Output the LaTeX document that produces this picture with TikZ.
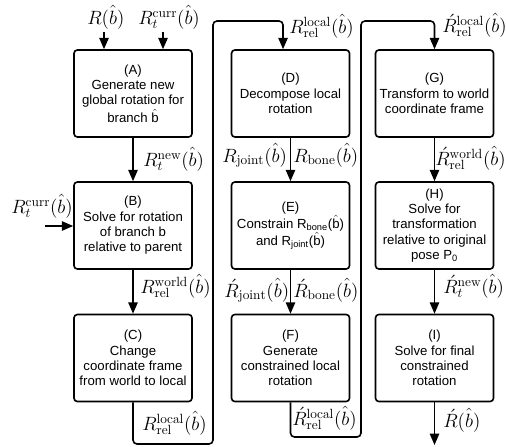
\documentclass[tikz,border=0pt]{standalone}
\usepackage{fontspec}
\newfontfamily\boxfont{Liberation Sans}
\usetikzlibrary{arrows.meta}
% R with an acute accent; the smashed box takes scripts like a plain R
\newcommand{\Racc}{\smash{\acute{R}}}
\newcommand{\bhat}{\hat{b}}
\newcommand{\sbhat}{$\hat{\mbox{b}}$}

\begin{document}
\begin{tikzpicture}[x=0.75pt,y=-0.75pt,
  stage/.style={draw, line width=1.2pt, rounded corners=2.5pt,
    minimum width=88.5pt, minimum height=65.25pt, align=center,
    inner sep=1pt, font=\boxfont\fontsize{9.9}{11.5}\selectfont},
  flow/.style={line width=1.2pt, -{Triangle[length=8.5pt,width=7pt]}},
  lbl/.style={anchor=base west, inner sep=0pt,
    font=\fontsize{14.4}{17}\selectfont}]

\useasboundingbox (0,0) rectangle (506,446);
\fill[white] (0,0) rectangle (506,446);

% processing stages
\node[stage] (A) at (133,93.5) {(A)\\Generate new\\global rotation for\\branch \sbhat};
\node[stage] (B) at (133,225.5) {(B)\\Solve for rotation\\of branch b\\relative to parent};
\node[stage] (C) at (133,358) {(C)\\Change\\coordinate frame\\from world to local};
\node[stage] (D) at (290.5,93.5) {(D)\\Decompose local\\rotation};
\node[stage] (E) at (290.5,225.5) {(E)\\Constrain R\textsubscript{bone}(\sbhat)\\and R\textsubscript{joint}(\sbhat)};
\node[stage] (F) at (290.5,358) {(F)\\Generate\\constrained local\\rotation};
\node[stage] (G) at (434.5,93.5) {(G)\\Transform to world\\coordinate frame};
\node[stage] (H) at (434.5,225.5) {(H)\\Solve for\\transformation\\relative to original\\pose P\textsubscript{0}};
\node[stage] (I) at (434.5,358) {(I)\\Solve for final\\constrained\\rotation};

% free ends and rail corners
\coordinate (inR) at (104,32);
\coordinate (inCurr) at (163,32);
\coordinate (inB) at (45,226);
\coordinate (r1) at (213,444);
\coordinate (r2) at (213,21);
\coordinate (r3) at (361,437);
\coordinate (r4) at (361,21);
\coordinate (out) at (434.5,445);

% connectors
\draw[flow] (inR) -- (inR |- A.north);
\draw[flow] (inCurr) -- (inCurr |- A.north);
\draw[flow] (A.south) -- (B.north);
\draw[flow] (inB) -- (inB -| B.west);
\draw[flow] (B.south) -- (C.north);
\draw[flow, rounded corners=3pt] (C.south) |- (r1) -- (r2) -| ([xshift=-5.6pt]D.north);
\draw[flow] (D.south) -- (E.north);
\draw[flow] (E.south) -- (F.north);
\draw[flow, rounded corners=3pt] (F.south) |- (r3) -- (r4) -| (G.north);
\draw[flow] (G.south) -- (H.north);
\draw[flow] (H.south) -- (I.north);
\draw[flow] (I.south) -- (out);

% signal labels
\node[lbl] (l1) at (87,24) {$R(\bhat)$};
\node[lbl] (l2) at (138,24) {$R_t^{\mathrm{curr}}(\bhat)$};
\node[lbl] (l3) at (143,166) {$R_t^{\mathrm{new}}(\bhat)$};
\node[lbl] (l4) at (11,213) {$R_t^{\mathrm{curr}}(\bhat)$};
\node[lbl] (l5) at (140,293) {$R_{\mathrm{rel}}^{\mathrm{world}}(\bhat)$};
\node[lbl] (l6) at (142,430) {$R_{\mathrm{rel}}^{\mathrm{local}}(\bhat)$};
\node[lbl] (l7) at (289,33) {$R_{\mathrm{rel}}^{\mathrm{local}}(\bhat)$};
\node[lbl] (l8) at (222,162) {$R_{\mathrm{joint}}(\bhat)$};
\node[lbl] (l9) at (293,162) {$R_{\mathrm{bone}}(\bhat)$};
\node[lbl] (l10) at (224,297) {$\Racc_{\mathrm{joint}}(\bhat)$};
\node[lbl] (l11) at (293,297) {$\Racc_{\mathrm{bone}}(\bhat)$};
\node[lbl] (l12) at (292,425) {$\Racc_{\mathrm{rel}}^{\mathrm{local}}(\bhat)$};
\node[lbl] (l13) at (442,32) {$\Racc_{\mathrm{rel}}^{\mathrm{local}}(\bhat)$};
\node[lbl] (l14) at (435,165) {$\Racc_{\mathrm{rel}}^{\mathrm{world}}(\bhat)$};
\node[lbl] (l15) at (443,293) {$\Racc_t^{\mathrm{new}}(\bhat)$};
\node[lbl] (l16) at (443,427) {$\Racc(\bhat)$};
\end{tikzpicture}
\end{document}
